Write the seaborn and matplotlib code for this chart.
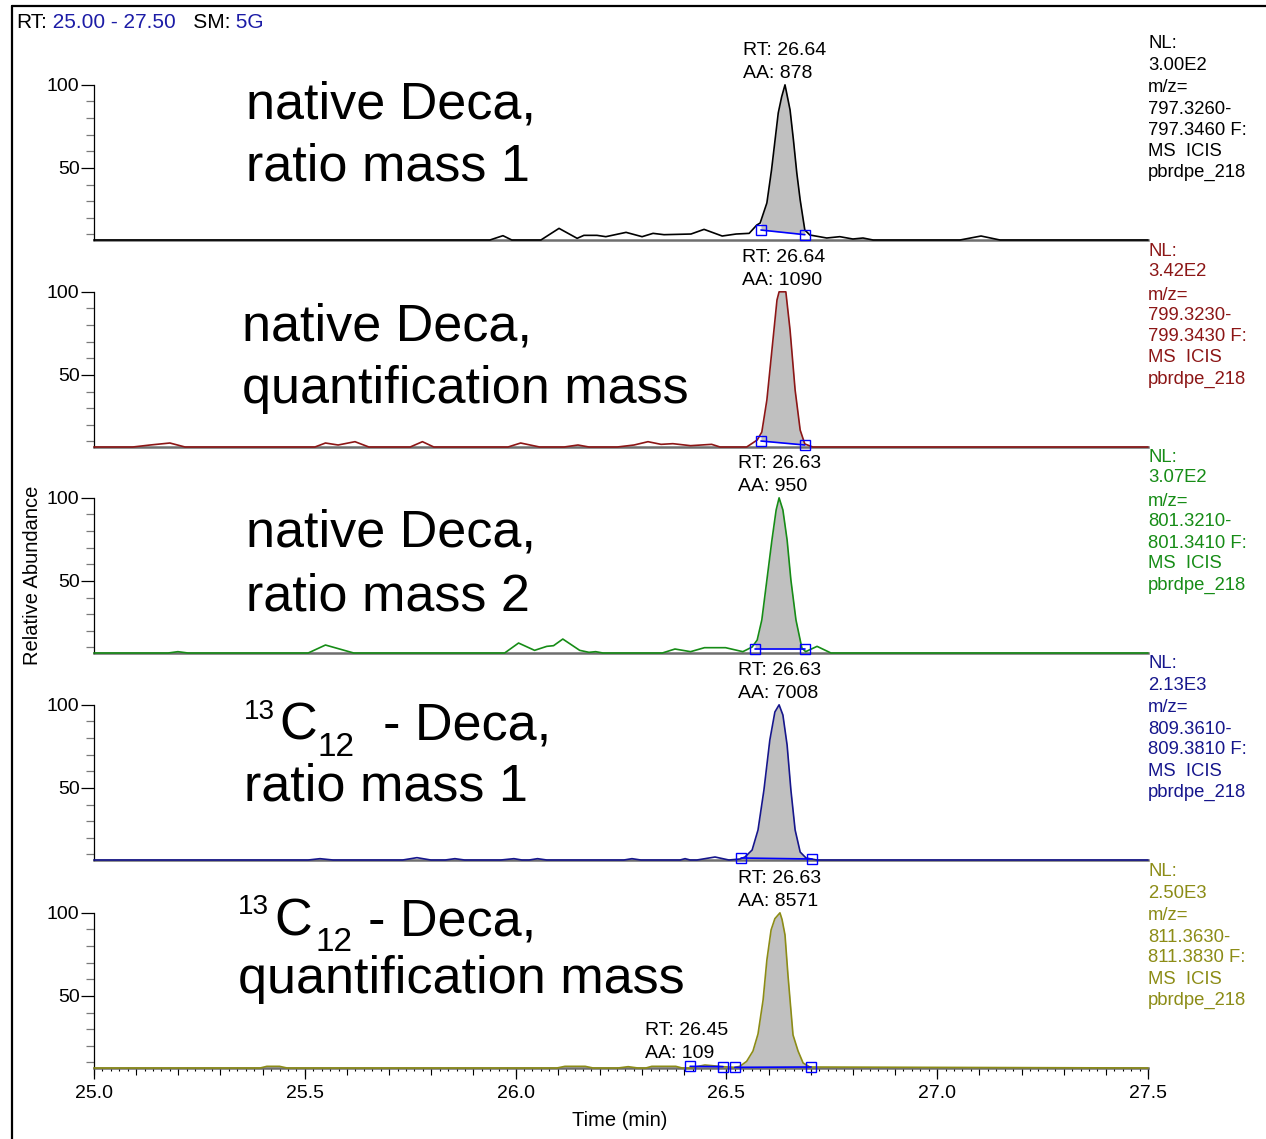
import numpy as np
import matplotlib
matplotlib.use("Agg")
import matplotlib.pyplot as plt
from matplotlib.lines import Line2D
from matplotlib.ticker import FixedLocator, MultipleLocator, FormatStrFormatter
import seaborn as sns

sns.set_theme(style="white")
plt.rcParams["font.family"] = ["Liberation Sans", "DejaVu Sans"]

# ---------------- data ----------------
x_min, x_max = 25.0, 27.5
y_floor, y_ceil = 6.6, 130.0

# trace 1: native Deca, ratio mass 1 (m/z 797.33-797.35)
t1 = [25.000, 25.939, 25.970, 25.991, 26.060, 26.103, 26.146, 26.162, 26.193, 26.214,
      26.262, 26.300, 26.326, 26.352, 26.416, 26.447, 26.490, 26.523, 26.554, 26.572,
      26.580, 26.596, 26.607, 26.623, 26.631, 26.639, 26.651, 26.659, 26.667, 26.675,
      26.686, 26.698, 26.738, 26.769, 26.800, 26.824, 26.848, 27.054, 27.104, 27.149, 27.500]
a1 = [6.6, 6.6, 9.2, 6.6, 6.6, 13.6, 7.6, 9.4, 9.4, 8.6,
      11.2, 8.6, 10.6, 9.8, 10.2, 13.0, 9.0, 10.2, 10.6, 15.6,
      16.8, 28.9, 48.7, 83.1, 92.7, 100.0, 84.9, 66.8, 46.9, 30.7,
      12.6, 9.6, 7.8, 8.6, 7.2, 7.8, 6.6, 6.6, 9.0, 6.6, 6.6]

# trace 2: native Deca, quantification mass (m/z 799.32-799.34)
t2 = [25.000, 25.092, 25.133, 25.180, 25.216, 25.524, 25.549, 25.579, 25.619, 25.652,
      25.750, 25.779, 25.806, 25.982, 26.012, 26.057, 26.115, 26.148, 26.174, 26.241,
      26.281, 26.314, 26.345, 26.373, 26.415, 26.465, 26.485, 26.548, 26.573, 26.584,
      26.596, 26.608, 26.620, 26.625, 26.641, 26.651, 26.663, 26.675, 26.686, 26.705, 27.500]
a2 = [6.6, 6.6, 7.8, 9.0, 6.6, 6.6, 9.0, 7.8, 9.8, 6.6,
      6.6, 9.8, 6.6, 6.6, 9.0, 6.6, 6.6, 7.8, 6.6, 6.6,
      7.8, 9.8, 8.2, 8.6, 7.4, 8.2, 6.6, 6.6, 10.8, 15.6,
      34.9, 65.0, 95.1, 100.0, 100.0, 77.0, 40.9, 16.8, 8.4, 6.6, 6.6]

# trace 3: native Deca, ratio mass 2 (m/z 801.32-801.34)
t3 = [25.000, 25.176, 25.199, 25.223, 25.508, 25.549, 25.616, 25.974, 26.007, 26.045,
      26.074, 26.090, 26.112, 26.152, 26.174, 26.190, 26.207, 26.348, 26.378, 26.415,
      26.448, 26.498, 26.539, 26.561, 26.573, 26.584, 26.596, 26.608, 26.618, 26.625,
      26.634, 26.644, 26.653, 26.665, 26.679, 26.688, 26.715, 26.748, 27.500]
a3 = [6.6, 6.6, 7.4, 6.6, 6.6, 11.4, 6.6, 6.6, 12.6, 8.2,
      10.6, 11.0, 15.0, 8.2, 7.0, 7.4, 6.6, 6.6, 9.0, 7.4,
      9.8, 9.8, 7.4, 10.2, 14.4, 26.5, 50.5, 74.6, 92.7, 100.0,
      92.7, 74.6, 50.5, 26.5, 9.6, 7.4, 10.6, 6.6, 6.6]

# trace 4: 13C12-Deca, ratio mass 1 (m/z 809.36-809.38)
t4 = [25.000, 25.508, 25.536, 25.567, 25.732, 25.766, 25.799, 25.833, 25.856, 25.879,
      25.965, 25.996, 26.015, 26.032, 26.052, 26.074, 26.257, 26.276, 26.297, 26.390,
      26.402, 26.414, 26.430, 26.473, 26.506, 26.532, 26.544, 26.561, 26.575, 26.589,
      26.603, 26.615, 26.625, 26.634, 26.644, 26.653, 26.663, 26.675, 26.689, 26.715, 27.500]
a4 = [6.6, 6.6, 7.4, 6.6, 6.6, 8.0, 6.6, 6.6, 7.4, 6.6,
      6.6, 7.4, 6.6, 6.6, 7.4, 6.6, 6.6, 7.4, 6.6, 6.6,
      7.4, 6.6, 6.6, 8.4, 6.6, 7.2, 8.4, 12.6, 24.7, 48.7,
      78.8, 95.7, 100.0, 93.9, 75.8, 48.7, 24.7, 11.4, 7.8, 6.6, 6.6]

# trace 5: 13C12-Deca, quantification mass (m/z 811.36-811.38)
t5 = [25.000, 25.394, 25.410, 25.440, 25.458, 26.098, 26.117, 26.165, 26.184, 26.243,
      26.267, 26.290, 26.309, 26.323, 26.380, 26.395, 26.414, 26.449, 26.492, 26.520,
      26.532, 26.548, 26.563, 26.575, 26.587, 26.596, 26.606, 26.615, 26.627, 26.632,
      26.639, 26.646, 26.651, 26.658, 26.670, 26.682, 26.698, 27.500]
a5 = [6.6, 6.6, 7.6, 7.6, 6.6, 6.6, 7.6, 7.6, 6.6, 6.6,
      7.4, 6.6, 6.6, 7.6, 7.6, 6.6, 6.6, 8.4, 7.4, 7.0,
      7.6, 10.6, 16.8, 27.1, 47.5, 71.6, 89.7, 96.5, 100.0, 96.0,
      86.7, 62.6, 47.5, 26.5, 16.8, 9.6, 7.2, 6.6]

# integration limits: (start time, start level, end time, end level)
integration = [
    [(26.582, 12.6, 26.686, 9.8)],
    [(26.582, 10.2, 26.686, 7.8)],
    [(26.568, 9.0, 26.686, 9.0)],
    [(26.535, 7.8, 26.703, 7.2)],
    [(26.414, 7.6, 26.492, 7.4), (26.520, 7.0, 26.701, 7.2)],
]
shade_peak = [[True], [True], [True], [True], [False, True]]

# peak labels: (rt, area, apex time, apex level, x offset in points)
peak_labels = [
    [("26.64", "878", 26.639, 100.0, 0)],
    [("26.64", "1090", 26.633, 100.0, 1)],
    [("26.63", "950", 26.625, 100.0, 0)],
    [("26.63", "7008", 26.625, 100.0, 0)],
    [("26.63", "8571", 26.627, 100.0, 0), ("26.45", "109", 26.449, 8.4, -13)],
]

nl_values = ["3.00E2", "3.42E2", "3.07E2", "2.13E3", "2.50E3"]
mz_low = ["797.3260", "799.3230", "801.3210", "809.3610", "811.3630"]
mz_high = ["797.3460", "799.3430", "801.3410", "809.3810", "811.3830"]

title_first = ["native Deca,", "native Deca,", "native Deca,", None, None]
title_second = ["ratio mass 1", "quantification mass", "ratio mass 2",
                "ratio mass 1", "quantification mass"]
iso_mass, iso_elem, iso_count, iso_rest = "13", "C", "12", "- Deca,"

traces_t = [t1, t2, t3, t4, t5]
traces_a = [a1, a2, a3, a4, a5]
colors = ["#000000", "#8c1616", "#168c16", "#16168c", "#8c8c16"]

# ---------------- layout ----------------
W, H, DPI = 1266, 1139, 100
fig = plt.figure(figsize=(W / DPI, H / DPI), dpi=DPI)
fig.patch.set_facecolor("white")

ax_left, ax_right = 94, 1148
baselines = [240, 447, 653, 860, 1068]
panel_h = 205
title_x = [246, 242, 246, 244, 238]
title_y = [(105, 167), (327, 390), (533, 597), (722, 787), (917, 980)]
# x positions of the isotope label pieces: superscript, element, subscript, rest
iso_x = {3: (244, 279, 318, 383), 4: (238, 274, 316, 368)}
info_offsets = [0, 21, 44, 65, 86, 107, 128]
BIG = 37.5

fx = lambda px: px / W
fy = lambda py: 1 - py / H

axes = []
for i in range(5):
    b = baselines[i]
    ax = fig.add_axes([fx(ax_left), fy(b), (ax_right - ax_left) / W, panel_h / H])
    ax.set_facecolor("none")
    axes.append(ax)
    t = np.asarray(traces_t[i])
    a = np.asarray(traces_a[i])
    c = colors[i]

    # shaded integrated peak area
    for (ts, vs, te, ve), shade in zip(integration[i], shade_peak[i]):
        if shade:
            inner = t[(t > ts) & (t < te)]
            xs = np.concatenate([[ts], inner, [te]])
            top = np.interp(xs, t, a)
            base = np.interp(xs, [ts, te], [vs, ve])
            ax.fill_between(xs, base, top, color="#c0c0c0", lw=0, zorder=1)

    sns.lineplot(x=t, y=a, ax=ax, color=c, lw=1.2, estimator=None, sort=False,
                 zorder=3)
    ax.lines[-1].set_clip_on(False)

    for (ts, vs, te, ve) in integration[i]:
        ax.plot([ts, te], [vs, ve], color="#0000ff", lw=1.2, marker="s",
                mfc="none", mec="#0000ff", ms=6.5, mew=1.0, zorder=4, clip_on=False)

    for rt, aa, tx, ty, dx in peak_labels[i]:
        ax.annotate(f"RT: {rt}\nAA: {aa}", xy=(tx, ty), xytext=(dx, 2),
                    textcoords="offset points", ha="center", va="bottom",
                    multialignment="left", fontsize=14, linespacing=1.5,
                    color="black", annotation_clip=False, zorder=5)

    ax.set_xlim(x_min, x_max)
    ax.set_ylim(y_floor, y_ceil)
    for s in ("top", "right"):
        ax.spines[s].set_visible(False)
    ax.spines["bottom"].set_color("#6e6e6e")
    ax.spines["bottom"].set_linewidth(1.8)
    ax.spines["bottom"].set_zorder(2)
    ax.spines["left"].set_color("black")
    ax.spines["left"].set_linewidth(0.9)
    ax.spines["left"].set_bounds(y_floor, 100)

    ax.yaxis.set_major_locator(FixedLocator([50, 100]))
    ax.yaxis.set_minor_locator(FixedLocator([10, 20, 30, 40, 60, 70, 80, 90]))
    ax.tick_params(axis="y", which="major", left=True, direction="out", length=9.4,
                   width=0.9, color="black", labelsize=14, pad=1, labelcolor="black")
    ax.tick_params(axis="y", which="minor", left=True, direction="out", length=5.8,
                   width=0.9, color="#7a7a7a")
    ax.set_ylabel("")
    ax.set_xlabel("")

    if i < 4:
        ax.set_xticks([])
    else:
        ax.xaxis.set_major_locator(MultipleLocator(0.5))
        ax.xaxis.set_major_formatter(FormatStrFormatter("%.1f"))
        ax.xaxis.set_minor_locator(MultipleLocator(0.02))
        ax.tick_params(axis="x", which="major", bottom=True, direction="out", length=8,
                       width=0.9, color="black", labelsize=14, pad=4, labelcolor="black")
        ax.tick_params(axis="x", which="minor", bottom=True, direction="out", length=2.4,
                       width=0.8, color="black")
        sec = ax.secondary_xaxis("bottom")
        sec.set_xticks(np.round(np.arange(25.0, 27.51, 0.1), 1))
        sec.tick_params(axis="x", which="major", bottom=True, direction="out",
                        length=4.8, width=0.8, color="black", labelbottom=False)
        sec.spines["bottom"].set_visible(False)

    # trace description
    y1, y2 = title_y[i]
    if title_first[i] is not None:
        fig.text(fx(title_x[i]), fy(y1), title_first[i], fontsize=BIG, ha="left",
                 va="center", color="black")
    else:
        xs_, xe_, xn_, xr_ = iso_x[i]
        base_px = y1 + 18  # baseline of the main letters
        fig.text(fx(xs_), fy(base_px - 21), iso_mass, fontsize=20, ha="left",
                 va="baseline", color="black")
        fig.text(fx(xe_), fy(base_px), iso_elem, fontsize=BIG, ha="left",
                 va="baseline", color="black")
        fig.text(fx(xn_), fy(base_px + 16), iso_count, fontsize=24, ha="left",
                 va="baseline", color="black")
        fig.text(fx(xr_), fy(base_px), iso_rest, fontsize=BIG, ha="left",
                 va="baseline", color="black")
    fig.text(fx(title_x[i]), fy(y2), title_second[i], fontsize=BIG, ha="left",
             va="center", color="black")

    info = ["NL:", nl_values[i], "m/z=", mz_low[i] + "-", mz_high[i] + " F:",
            "MS  ICIS", "pbrdpe_218"]
    y0 = b - 196
    for line, off in zip(info, info_offsets):
        fig.text(fx(1148), fy(y0 + off), line, fontsize=13.3, ha="left",
                 va="center", color=c)

# header with scan range and smoothing
hdr_blue = "#1c1ca6"
h1 = fig.text(fx(16), fy(22), "RT:", fontsize=15, ha="left", va="center", color="black")
h2 = axes[0].annotate(" 25.00 - 27.50", xy=(1, 0), xycoords=h1, ha="left", va="bottom",
                      fontsize=15, color=hdr_blue, annotation_clip=False)
h3 = axes[0].annotate("   SM:", xy=(1, 0), xycoords=h2, ha="left", va="bottom",
                      fontsize=15, color="black", annotation_clip=False)
axes[0].annotate(" 5G", xy=(1, 0), xycoords=h3, ha="left", va="bottom",
                 fontsize=15, color=hdr_blue, annotation_clip=False)

fig.text(fx(33), fy(575), "Relative Abundance", rotation=90, fontsize=14.5,
         ha="center", va="center", color="black")
fig.text(fx(620), fy(1120), "Time (min)", fontsize=14.5, ha="center", va="center",
         color="black")

# outer frame
fig.add_artist(Line2D([fx(12), fx(12)], [0, fy(6)], transform=fig.transFigure,
                      color="black", lw=1.6))
fig.add_artist(Line2D([fx(12), 1], [fy(6), fy(6)], transform=fig.transFigure,
                      color="black", lw=1.6))

fig.savefig("out.png", dpi=DPI, facecolor="white")
